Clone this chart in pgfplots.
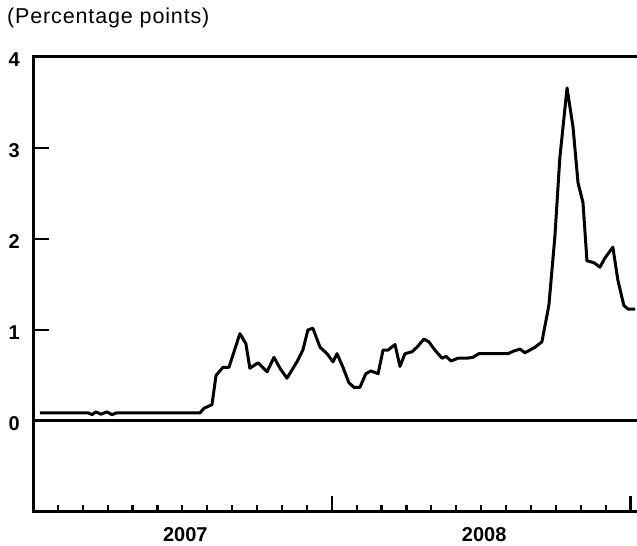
\documentclass[border=0pt]{standalone}
\usepackage{fontspec}
\setmainfont{Liberation Sans}
\usepackage{pgfplots}
\pgfplotsset{compat=1.18}
\begin{document}
\begin{tikzpicture}
\path[use as bounding box] (0,0) rectangle (637pt,546pt);
\node[anchor=north west, inner sep=0pt, font=\fontsize{21.5}{25}\selectfont\addfontfeature{LetterSpace=4}] at (7pt,538pt) {(Percentage points)};
\begin{axis}[
  at={(33pt,34pt)}, anchor=south west, scale only axis,
  width=604pt, height=455pt,
  xmin=0, xmax=24.26, ymin=-1, ymax=4,
  clip=false,
  axis line style={draw=none},
  tick align=inside,
  xtick pos=bottom, ytick pos=left,
  ytick={0,1,2,3,4},
  xtick={0,12,24},
  xticklabels={},
  minor xtick={1,2,3,4,5,6,7,8,9,10,11,13,14,15,16,17,18,19,20,21,22,23},
  major tick length=16pt,
  minor tick length=7pt,
  tick style={black, line width=2.2pt},
  /pgf/number format/assume math mode=true,
  yticklabel style={font=\fontsize{20}{24}\selectfont\bfseries, anchor=east, inner sep=0pt, xshift=-13pt, yshift=-3pt},
]
\addplot[black, line width=3pt, line join=round] coordinates {
(0.28,0.09) (2.21,0.09) (2.37,0.07) (2.53,0.10) (2.73,0.075) (2.97,0.10) (3.17,0.07) (3.37,0.09)
(6.71,0.09) (6.87,0.14) (7.19,0.18) (7.35,0.50) (7.63,0.59) (7.87,0.59) (8.31,0.96) (8.55,0.85)
(8.71,0.58) (9.04,0.64) (9.40,0.54) (9.68,0.70) (9.92,0.58) (10.20,0.47) (10.40,0.56) (10.60,0.65)
(10.84,0.78) (11.04,1.00) (11.24,1.02) (11.53,0.81) (11.81,0.74) (12.05,0.65) (12.21,0.74) (12.45,0.59)
(12.69,0.42) (12.89,0.37) (13.13,0.37) (13.37,0.52) (13.57,0.55) (13.86,0.52) (14.06,0.78) (14.26,0.78)
(14.54,0.84) (14.74,0.60) (14.94,0.74) (15.22,0.76) (15.42,0.81) (15.70,0.90) (15.90,0.87) (16.14,0.78)
(16.43,0.69) (16.59,0.71) (16.79,0.66) (17.07,0.69) (17.43,0.69) (17.67,0.70) (17.91,0.74) (19.08,0.74)
(19.32,0.77) (19.56,0.79) (19.76,0.75) (20.16,0.81) (20.44,0.87) (20.72,1.27) (20.96,2.02) (21.16,2.89)
(21.45,3.66) (21.69,3.23) (21.89,2.62) (22.09,2.40) (22.25,1.76) (22.53,1.74) (22.77,1.69) (22.97,1.79)
(23.29,1.91) (23.49,1.55) (23.73,1.27) (23.90,1.23) (24.18,1.23)
};
\draw[black, line width=3pt] (axis cs:24.26,4) -- (axis cs:0,4) -- (axis cs:0,-1) -- (axis cs:24.26,-1);
\draw[black, line width=3pt] (axis cs:0,0) -- (axis cs:24.26,0);
\node[anchor=north, inner sep=0pt, yshift=-15pt, font=\fontsize{20}{24}\selectfont\bfseries] at (axis cs:6.12,-1) {2007};
\node[anchor=north, inner sep=0pt, yshift=-15pt, font=\fontsize{20}{24}\selectfont\bfseries] at (axis cs:18.12,-1) {2008};
\end{axis}
\end{tikzpicture}
\end{document}
